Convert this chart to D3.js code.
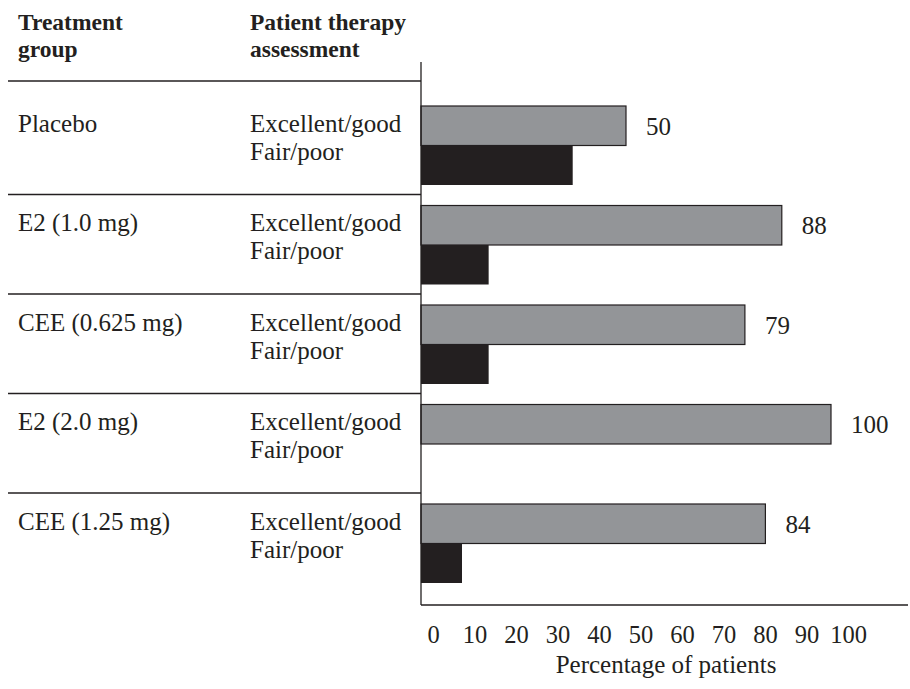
<!DOCTYPE html>
<html>
<head>
<meta charset="utf-8">
<script src="https://cdn.jsdelivr.net/npm/d3@7"></script>
<style>
  body { margin: 0; background: #fff; }
  text { font-family: "Liberation Serif", "Times New Roman", serif; fill: #231f20; }
</style>
</head>
<body>
<div id="chart"></div>
<script>
// data
var groups = ["Placebo", "E2 (1.0 mg)", "CEE (0.625 mg)", "E2 (2.0 mg)", "CEE (1.25 mg)"];
var assessments = ["Excellent/good", "Fair/poor"];
var goodValues = [50, 88, 79, 100, 84];      // grey bars, labelled
var poorValues = [37, 16.5, 16.5, 0, 10];    // black bars, unlabelled
var goodLabels = ["50", "88", "79", "100", "84"];
var tickValues = [0, 10, 20, 30, 40, 50, 60, 70, 80, 90, 100];

var W = 910, H = 689;
var svg = d3.select("#chart").append("svg")
  .attr("width", W)
  .attr("height", H);

var axisX = 421, axisBottom = 605;

var x = d3.scaleLinear().domain([0, 100]).range([axisX, 831]);

var y = d3.scaleBand()
  .domain(groups)
  .range([87, 87 + 5 * 99.5]);

var inner = d3.scaleBand()
  .domain(assessments)
  .range([19, 98]);

var rows = groups.map(function(g, i) {
  return { group: g, good: goodValues[i], poor: poorValues[i], label: goodLabels[i] };
});

// column headers
var head = svg.append("g").style("font-weight", "bold").style("font-size", "23.5px");
head.append("text").attr("x", 18).attr("y", 30).text("Treatment");
head.append("text").attr("x", 18).attr("y", 57).text("group");
head.append("text").attr("x", 250).attr("y", 30).text("Patient therapy");
head.append("text").attr("x", 250).attr("y", 57).text("assessment");

// separator lines (table rules): top rule, then between groups
svg.selectAll(".sep")
  .data(groups)
  .enter().append("line")
  .attr("class", "sep")
  .attr("x1", 8).attr("x2", axisX)
  .attr("y1", function(d, i) { return i == 0 ? 81 : y(d) + 8; })
  .attr("y2", function(d, i) { return i == 0 ? 81 : y(d) + 8; })
  .attr("stroke", "#231f20")
  .attr("stroke-width", 1.3);

// row labels
var row = svg.selectAll(".row")
  .data(rows)
  .enter().append("g")
  .attr("class", "row")
  .attr("transform", function(d) { return "translate(0," + y(d.group) + ")"; })
  .style("font-size", "25px");

row.append("text")
  .attr("x", 18)
  .attr("y", inner("Excellent/good") + inner.bandwidth() / 2 + 6)
  .text(function(d) { return d.group; });

assessments.forEach(function(a, j) {
  row.append("text")
    .attr("x", 250)
    .attr("y", inner("Excellent/good") + inner.bandwidth() / 2 + 6 + j * 28)
    .text(a);
});

// bars
row.append("rect")
  .attr("x", x(0))
  .attr("y", inner("Excellent/good"))
  .attr("width", function(d) { return x(d.good) - x(0); })
  .attr("height", inner.bandwidth())
  .attr("fill", "#939598")
  .attr("stroke", "#231f20")
  .attr("stroke-width", 1.2);

row.append("rect")
  .attr("x", x(0))
  .attr("y", inner("Fair/poor"))
  .attr("width", function(d) { return x(d.poor) - x(0); })
  .attr("height", inner.bandwidth())
  .attr("fill", "#231f20");

row.append("text")
  .attr("x", function(d) { return x(d.good) + 20; })
  .attr("y", inner("Excellent/good") + inner.bandwidth() / 2 + 9)
  .text(function(d) { return d.label; });

// axes lines
svg.append("line")
  .attr("x1", axisX).attr("x2", axisX)
  .attr("y1", 62).attr("y2", axisBottom)
  .attr("stroke", "#231f20").attr("stroke-width", 1.3);
svg.append("line")
  .attr("x1", axisX).attr("x2", 908)
  .attr("y1", axisBottom).attr("y2", axisBottom)
  .attr("stroke", "#231f20").attr("stroke-width", 1.3);

// tick labels (no tick marks in the original, labels sit a bit right)
var xAxis = svg.append("g")
  .attr("transform", "translate(12," + axisBottom + ")")
  .call(d3.axisBottom(x).tickValues(tickValues).tickSize(0).tickPadding(0));
xAxis.select(".domain").remove();
xAxis.selectAll("text")
  .attr("y", 38)
  .attr("dy", null)
  .attr("dx", function(d) { return d / 100 * 5; })
  .style("font-family", "Liberation Serif, serif")
  .style("font-size", "24.5px")
  .attr("fill", "#231f20");

svg.append("text")
  .attr("x", 666)
  .attr("y", 673)
  .attr("text-anchor", "middle")
  .style("font-size", "25px")
  .text("Percentage of patients");
</script>
</body>
</html>
